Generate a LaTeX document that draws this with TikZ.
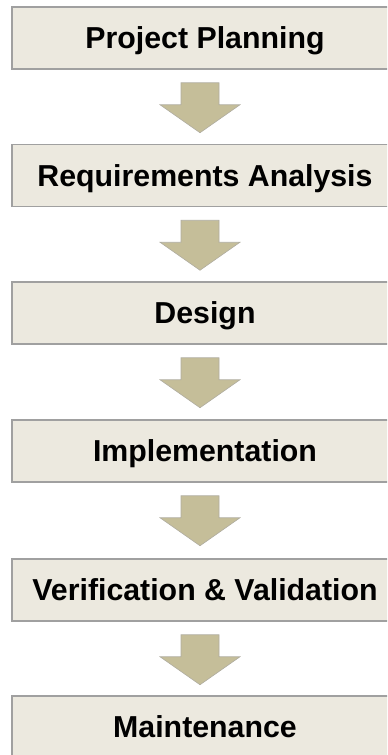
\documentclass[tikz,border=0pt]{standalone}
\usepackage{fontspec}
\setmainfont{Liberation Sans}
\usetikzlibrary{calc}
\definecolor{boxfill}{RGB}{236,233,223}
\definecolor{boxline}{RGB}{160,160,160}
\definecolor{arrfill}{RGB}{197,190,153}
\definecolor{arrline}{RGB}{175,172,160}
\tikzset{
  stagebox/.style={draw=boxline, line width=1.5bp, fill=boxfill,
    minimum width=386bp, minimum height=62bp, inner sep=0pt,
    text height=21.7bp, text depth=0pt,
    font=\fontsize{30.3bp}{36bp}\selectfont\bfseries},
  blockarrow/.style={fill=arrfill, draw=arrline, line width=0.6bp, line join=miter}
}
\begin{document}
\begin{tikzpicture}[x=1bp,y=-1bp]
\path[use as bounding box, clip] (0,0) rectangle (387,755);
\node[stagebox] (b1) at (205,38) {Project Planning};
\node[stagebox] (b2) at (205,175.5) {Requirements Analysis};
\node[stagebox] (b3) at (205,313) {Design};
\node[stagebox] (b4) at (205,451) {Implementation};
\node[stagebox] (b5) at (205,590) {Verification \& Validation};
\node[stagebox] (b6) at (205,727) {Maintenance};
\foreach \a in {b1,b2,b3,b4,b5}{
  \path[blockarrow] ($(\a.south)+(-24,13)$) -- ++(38,0) -- ++(0,22) -- ++(21,0)
    -- ++(-40,28) -- ++(-40,-28) -- ++(21,0) -- cycle;
}
\end{tikzpicture}
\end{document}
